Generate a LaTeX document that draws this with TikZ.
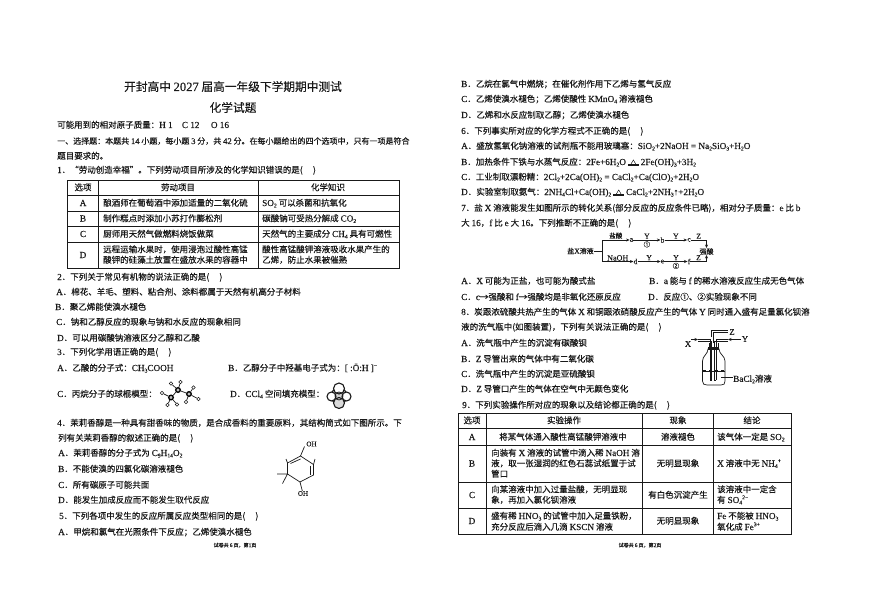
\documentclass[tikz,border=0pt]{standalone}
\usepackage{fontspec}
\usepackage{graphicx}
\setmainfont[FakeBold=0.25]{Noto Sans CJK SC}
\newfontfamily\enfont[Scale=1.08,FakeBold=0.25]{Liberation Serif}
\usetikzlibrary{arrows.meta}
\newcommand\en[1]{{\enfont #1}}
\newcommand\sbb[1]{\raisebox{-0.35ex}{\scalebox{.62}{\enfont #1}}}
\newcommand\spp[1]{\raisebox{0.9ex}{\scalebox{.62}{\enfont #1}}}
\newcommand\heat{\raisebox{-0.1ex}{\shortstack{\scalebox{.75}{△}\\[-3.5pt]\rule{11pt}{.5pt}\\[-3pt]\rule{11pt}{.5pt}}}}
\definecolor{ink}{gray}{0.1}
\newcounter{tc}
\tikzset{
 txt/.style={anchor=base west,inner sep=0pt,text=ink,font=\fontsize{8.5}{10}\selectfont},
 ctr/.style={anchor=base,inner sep=0pt,text=ink,font=\fontsize{8.5}{10}\selectfont},
 sml/.style={anchor=base,inner sep=0pt,text=ink,font=\fontsize{5}{6}\selectfont},
 lab/.style={inner sep=0pt,text=ink,font=\fontsize{7}{8}\selectfont},
 labs/.style={inner sep=0pt,text=ink,font=\fontsize{6.5}{8}\selectfont},
 rule/.style={draw=ink,line width=.8pt},
 bond/.style={draw=ink,line width=.7pt},
 flow/.style={draw=ink,line width=.7pt},
 flowa/.style={flow,-{Stealth[length=3.5pt,width=3pt]}},
 hball/.style={circle,draw=ink,line width=.5pt,fill=white,minimum size=3.4pt,inner sep=0pt},
 cball/.style={circle,draw=black,line width=1.3pt,fill=gray!50,minimum size=4.6pt,inner sep=0pt},
}
\newcommand\tl[3]{\stepcounter{tc}\node[txt] (t\thetc) at (#1,#2+3) {#3};}
\newcommand\tc[3]{\stepcounter{tc}\node[ctr] (t\thetc) at (#1,#2+3) {#3};}
\begin{document}
\begin{tikzpicture}[x=1pt,y=-1pt]
\useasboundingbox (0,0) rectangle (870,615);
\fill[white] (0,0) rectangle (870,615);
% --- page 1 ---
\node[anchor=base,inner sep=0pt,text=ink,font=\fontsize{11.7}{14}\selectfont] (title) at (233,91) {开封高中 \en{2027} 届高一年级下学期期中测试};
\node[anchor=base,inner sep=0pt,text=ink,font=\fontsize{11.7}{14}\selectfont] (sub) at (233,112) {化学试题};
\tl{57}{125}{可能用到的相对原子质量：\en{H 1\quad C 12\quad\ O 16}}
\tl{57}{141}{\fontsize{8}{10}\selectfont 一、选择题：本题共 \en{14} 小题，每小题 \en{3} 分，共 \en{42} 分。在每小题给出的四个选项中，只有一项是符合}
\tl{57}{156}{题目要求的。}
\tl{57}{170}{\en{1}．“劳动创造幸福”。下列劳动项目所涉及的化学知识错误的是(\quad\ )}
% table 1
\draw[rule] (67,180) rectangle (399,268);
\foreach \yy in {195,211,226,242} \draw[rule] (67,\yy) -- (399,\yy);
\foreach \xx in {98,258} \draw[rule] (\xx,180) -- (\xx,268);
\tc{83}{187.5}{选项}\tc{178}{187.5}{劳动项目}\tc{328}{187.5}{化学知识}
\tc{83}{203}{\en{A}}\tl{103}{203}{酿酒师在葡萄酒中添加适量的二氧化硫}\tl{262}{203}{\en{SO\sbb{2}} 可以杀菌和抗氧化}
\tc{83}{218.5}{\en{B}}\tl{103}{218.5}{制作糕点时添加小苏打作膨松剂}\tl{262}{218.5}{碳酸钠可受热分解成 \en{CO\sbb{2}}}
\tc{83}{234}{\en{C}}\tl{103}{234}{厨师用天然气做燃料烧饭做菜}\tl{262}{234}{天然气的主要成分 \en{CH\sbb{4}} 具有可燃性}
\tc{83}{255}{\en{D}}\tl{103}{249.5}{远程运输水果时，使用浸泡过酸性高锰}\tl{103}{260}{酸钾的硅藻土放置在盛放水果的容器中}
\tl{262}{249.5}{酸性高锰酸钾溶液吸收水果产生的}\tl{262}{260}{乙烯，防止水果被催熟}
\tl{57}{277}{\en{2}．下列关于常见有机物的说法正确的是(\quad\ )}
\tl{56}{292}{\en{A}．棉花、羊毛、塑料、粘合剂、涂料都属于天然有机高分子材料}
\tl{55}{307}{\en{B}．聚乙烯能使溴水褪色}
\tl{56}{322}{\en{C}．钠和乙醇反应的现象与钠和水反应的现象相同}
\tl{57}{338}{\en{D}．可以用碳酸钠溶液区分乙醇和乙酸}
\tl{57}{352}{\en{3}．下列化学用语正确的是(\quad\ )}
\tl{57}{368}{\en{A}．乙酸的分子式：\en{CH\sbb{3}COOH}}
\tl{228}{368}{\en{B}．乙醇分子中羟基电子式为：\en{[ :Ö:H ]\spp{−}}}
\tl{57}{394}{\en{C}．丙烷分子的球棍模型：}
\tl{230}{394}{\en{D}．\en{CCl\sbb{4}} 空间填充模型：}
% ball and stick
\node[cball] (c1) at (171,397.5) {};
\node[cball] (c2) at (178,390) {};
\node[cball] (c3) at (189,394) {};
\node[hball] (h1) at (162,393) {};
\node[hball] (h2) at (167.5,405) {};
\node[hball] (h3) at (177,404.5) {};
\node[hball] (h4) at (171,383.5) {};
\node[hball] (h5) at (180.5,382) {};
\node[hball] (h6) at (186,402) {};
\node[hball] (h7) at (198.5,399) {};
\node[hball] (h8) at (193.5,387.5) {};
\draw[bond] (c1)--(c2) (c2)--(c3) (c1)--(h1) (c1)--(h2) (c1)--(h3) (c2)--(h4) (c2)--(h5) (c3)--(h6) (c3)--(h7) (c3)--(h8);
% space filling model
\draw[ink,line width=1.1pt,fill=gray!35] (339,396) circle (8);
\draw[ink,line width=1.1pt,fill=white] (339,388.5) circle (5.5);
\draw[ink,line width=1.1pt,fill=white] (331.5,396.5) circle (4.5);
\draw[ink,line width=1.1pt,fill=white] (346.5,396.5) circle (4.5);
\draw[ink,line width=1.1pt,fill=gray!30] (339,403) circle (5.5);
\draw[ink,line width=.8pt] (339,396) circle (4);
\tl{57}{423}{\en{4}．茉莉香醇是一种具有甜香味的物质，是合成香料的重要原料，其结构简式如下图所示。下}
\tl{58}{438}{列有关茉莉香醇的叙述正确的是(\quad\ )}
\tl{58}{453}{\en{A}．茉莉香醇的分子式为 \en{C\sbb{9}H\sbb{14}O\sbb{2}}}
\tl{58}{469}{\en{B}．不能使溴的四氯化碳溶液褪色}
\tl{58}{485}{\en{C}．所有碳原子可能共面}
\tl{58}{500}{\en{D}．能发生加成反应而不能发生取代反应}
\tl{59}{516}{\en{5}．下列各项中发生的反应所属反应类型相同的是(\quad\ )}
\tl{58}{532}{\en{A}．甲烷和氯气在光照条件下反应；乙烯使溴水褪色}
\node[sml] (f1) at (235,547) {试卷共 \en{6} 页，第\en{1}页};
% skeletal structure
\coordinate (r1) at (300.5,456);
\coordinate (r2) at (313.5,464.5);
\coordinate (r3) at (313.5,475);
\coordinate (r4) at (300,482);
\coordinate (r5) at (287.5,474);
\coordinate (r6) at (287.5,463);
\draw[bond] (r1)--(r2)--(r3)--(r4)--(r5)--(r6)--cycle;
\draw[bond] (290.5,463.5)--(300.5,459);
\draw[bond] (310.5,465.5)--(310.5,475);
\node[labs] (oh1) at (311.5,444) {\en{OH}};
\node[labs] (oh2) at (303,493.5) {\en{OH}};
\coordinate (m1) at (304.5,446.5);
\coordinate (m2) at (277,474);
\coordinate (m3) at (282.5,483.5);
\coordinate (m4) at (286,459);
\coordinate (m5) at (315,459);
\draw[bond] (r1)--(m1) (r5)--(m2) (r5)--(m3) (r6)--(m4) (r2)--(m5) (r4)--(oh2);
% --- page 2 ---
\tl{461}{84}{\en{B}．乙烷在氯气中燃烧；在催化剂作用下乙烯与氢气反应}
\tl{461}{99}{\en{C}．乙烯使溴水褪色；乙烯使酸性 \en{KMnO\sbb{4}} 溶液褪色}
\tl{461}{115}{\en{D}．乙烯和水反应制取乙醇；乙烯使溴水褪色}
\tl{461}{131}{\en{6}．下列事实所对应的化学方程式不正确的是(\quad\ )}
\tl{461}{146}{\en{A}．盛放氢氧化钠溶液的试剂瓶不能用玻璃塞：\en{SiO\sbb{2}+2NaOH = Na\sbb{2}SiO\sbb{3}+H\sbb{2}O}}
\tl{461}{162}{\en{B}．加热条件下铁与水蒸气反应：\en{2Fe+6H\sbb{2}O} \heat\ \en{2Fe(OH)\sbb{3}+3H\sbb{2}}}
\tl{461}{177}{\en{C}．工业制取漂粉精：\en{2Cl\sbb{2}+2Ca(OH)\sbb{2} = CaCl\sbb{2}+Ca(ClO)\sbb{2}+2H\sbb{2}O}}
\tl{461}{192}{\en{D}．实验室制取氨气：\en{2NH\sbb{4}Cl+Ca(OH)\sbb{2}} \heat\ \en{CaCl\sbb{2}+2NH\sbb{3}↑+2H\sbb{2}O}}
\tl{461}{208}{\en{7}．盐 \en{X} 溶液能发生如图所示的转化关系(部分反应的反应条件已略)，相对分子质量：\en{e} 比 \en{b}}
\tl{461}{223}{大 \en{16}，\en{f} 比 \en{e} 大 \en{16}。下列推断不正确的是(\quad\ )}
% flow
\node[lab] (salt) at (580.5,251) {盐\en{X}溶液};
\node[lab] (a) at (631.5,240) {\en{a}};
\node[lab] (b) at (662.5,240) {\en{b}};
\node[lab] (c) at (689,240) {\en{c}};
\node[lab] (acid) at (706.5,251.5) {强酸};
\node[lab] (d) at (635.5,261.5) {\en{d}};
\node[lab] (e) at (662.5,261.5) {\en{e}};
\node[lab] (f) at (689,261.5) {\en{f}};
\coordinate (fork) at (602,251);
\draw[flow] (salt)--(fork);
\draw[flowa] (fork)|-(a) node[pos=.75,above=1pt,labs] {盐酸};
\draw[flowa] (fork)|-(d) node[pos=.75,above=.5pt,labs,font=\fontsize{7.5}{8}\selectfont] {\en{NaOH}};
\draw[flowa] (a)--(b) node[midway,above=1pt,lab] {\en{Y}} node[midway,below=1pt,labs] {①};
\draw[flowa] (b)--(c) node[midway,above=1pt,lab] {\en{Y}};
\draw[flowa] (c)-|(acid) node[pos=.25,above=1pt,lab] {\en{Z}};
\draw[flowa] (d)--(e) node[midway,above=1pt,lab] {\en{Y}};
\draw[flowa] (e)--(f) node[midway,above=1pt,lab] {\en{Y}} node[midway,below=1pt,labs] {②};
\draw[flowa] (f)-|(acid) node[pos=.25,above=1pt,lab] {\en{Z}};
\tl{461}{281}{\en{A}．\en{X} 可能为正盐，也可能为酸式盐}
\tl{649}{281}{\en{B}．\en{a} 能与 \en{f} 的稀水溶液反应生成无色气体}
\tl{461}{297}{\en{C}．\en{c}→强酸和 \en{f}→强酸均是非氧化还原反应}
\tl{648}{297}{\en{D}．反应①、②实验现象不同}
\tl{461}{312}{\en{8}．炭跟浓硫酸共热产生的气体 \en{X} 和铜跟浓硝酸反应产生的气体 \en{Y} 同时通入盛有足量氯化钡溶}
\tl{461}{327}{液的洗气瓶中(如图装置)，下列有关说法正确的是(\quad\ )}
\tl{461}{343}{\en{A}．洗气瓶中产生的沉淀有碳酸钡}
\tl{461}{359}{\en{B}．\en{Z} 导管出来的气体中有二氧化碳}
\tl{461}{374}{\en{C}．洗气瓶中产生的沉淀是亚硫酸钡}
\tl{461}{389}{\en{D}．\en{Z} 导管口产生的气体在空气中无颜色变化}
\tl{462}{405}{\en{9}．下列实验操作所对应的现象以及结论都正确的是(\quad\ )}
% gas bottle
\draw[bond,line width=.7pt] (708,349) .. controls (708,354) and (702.5,356) .. (702.5,361) -- (702.5,381) .. controls (702.5,384) and (704,385) .. (707,385) -- (721,385) .. controls (724,385) and (725,384) .. (725,381) -- (725,361) .. controls (725,356) and (719,354) .. (719,349) -- cycle;
\fill[ink] (708,347) rectangle (719,350);
\draw[bond] (709,347)--(709,343) (718,347)--(718,343);
\draw[bond,dashed] (703,370)--(725,370);
\draw[bond] (703,371)--(725,371);
\coordinate (tl) at (698,339.5);
\coordinate (tr) at (728,339.5);
\draw[bond] (tl)--(710,339.5)--(710,380) (698,341.5)--(711.5,341.5)--(711.5,380)--(710,380);
\draw[bond] (tr)--(716,339.5)--(716,380) (728,341.5)--(714.5,341.5)--(714.5,380)--(716,380);
\draw[bond] (713,343)--(713,332)--(728,332) (711.5,337)--(711.5,330.5)--(728,330.5);
\node[lab,font=\fontsize{8}{9}\selectfont] (xl) at (688,344) {\en{X}};
\node[lab,font=\fontsize{8}{9}\selectfont] (yl) at (745,339) {\en{Y}};
\node[lab,font=\fontsize{8}{9}\selectfont] (zl) at (732,332) {\en{Z}};
\coordinate (xs) at (691,339.5);
\draw[flowa] (xs)--(tl);
\coordinate (ys) at (741,339.5);
\draw[flowa] (ys)--(tr);
\node[txt,anchor=west] (ba) at (733,379) {\en{BaCl\sbb{2}}溶液};
\coordinate (bq) at (721,377);
\draw[bond] (bq)--(ba.west|-bq);
% table 9
\draw[rule] (458,413) rectangle (791,534);
\foreach \yy in {428,445,482,508} \draw[rule] (458,\yy) -- (791,\yy);
\foreach \xx in {486,642,713} \draw[rule] (\xx,413) -- (\xx,534);
\tc{472}{420.5}{选项}\tc{564}{420.5}{实验操作}\tc{678}{420.5}{现象}\tc{752}{420.5}{结论}
\tc{472}{437}{\en{A}}\tc{563}{437}{将某气体通入酸性高锰酸钾溶液中}\tc{678}{437}{溶液褪色}\tl{717}{437}{该气体一定是 \en{SO\sbb{2}}}
\tc{472}{463.5}{\en{B}}\tl{491}{453}{向装有 \en{X} 溶液的试管中滴入稀 \en{NaOH} 溶}\tl{491}{463.5}{液，取一张湿润的红色石蕊试纸置于试}\tl{491}{474}{管口}
\tc{678}{463.5}{无明显现象}\tl{717}{463.5}{\en{X} 溶液中无 \en{NH\sbb{4}\spp{+}}}
\tc{472}{495}{\en{C}}\tl{491}{489.5}{向某溶液中加入过量盐酸，无明显现}\tl{491}{500}{象，再加入氯化钡溶液}
\tc{678}{495}{有白色沉淀产生}\tl{717}{489.5}{该溶液中一定含}\tl{717}{500}{有 \en{SO\sbb{4}\spp{2−}}}
\tc{472}{521}{\en{D}}\tl{491}{516}{盛有稀 \en{HNO\sbb{3}} 的试管中加入足量铁粉，}\tl{491}{527}{充分反应后滴入几滴 \en{KSCN} 溶液}
\tc{678}{521}{无明显现象}\tl{717}{516}{\en{Fe} 不能被 \en{HNO\sbb{3}}}\tl{717}{527}{氧化成 \en{Fe\spp{3+}}}
\node[sml] (f2) at (640,547) {试卷共 \en{6} 页，第\en{2}页};
\end{tikzpicture}
\end{document}
